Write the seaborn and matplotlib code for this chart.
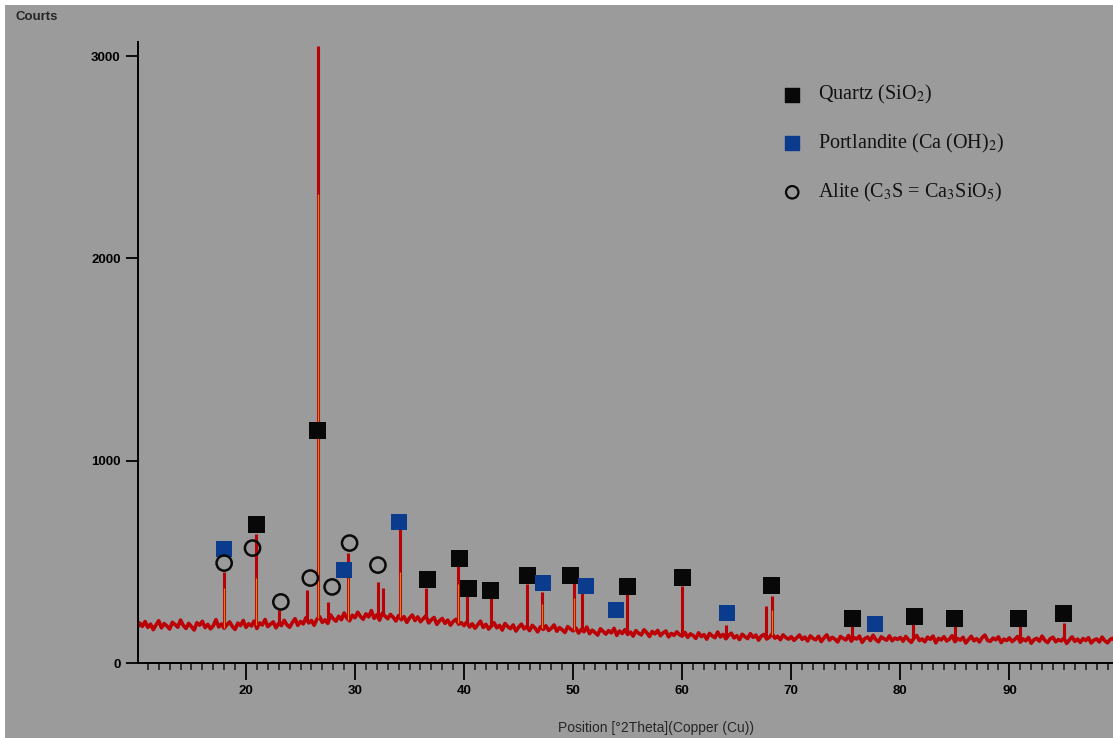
import numpy as np
import pandas as pd
import matplotlib
matplotlib.use("Agg")
import matplotlib.pyplot as plt
from matplotlib.patches import Rectangle
import seaborn as sns

# XRD baseline, every 0.25 deg from 10 to 100
baseline = [
    170, 198, 181, 205, 176, 192, 165, 188, 209, 174, 195, 183, 168, 201, 190, 177, 212, 186, 171, 196,
    180, 163, 199, 187, 206, 175, 191, 169, 184, 214, 178, 193, 172, 189, 203, 181, 166, 197, 185, 210,
    176, 194, 183, 207, 171, 198, 188, 215, 180, 192, 203, 174, 196, 185, 211, 189, 177, 200, 219, 186,
    205, 193, 224, 198, 210, 187, 216, 229, 201, 213, 196, 238, 219, 207, 231, 214, 247, 222, 209, 236,
    224, 251, 230, 216, 243, 228, 259, 221, 238, 212, 246, 232, 219, 240, 226, 208, 235, 214, 229, 201,
    223, 237, 210, 228, 204, 219, 233, 198, 214, 225, 191, 209, 220, 196, 212, 187, 205, 216, 192, 199,
    185, 203, 178, 194, 172, 189, 207, 176, 191, 168, 183, 199, 174, 186, 163, 195, 180, 170, 188, 158,
    177, 192, 169, 181, 160, 186, 173, 154, 179, 166, 184, 161, 172, 188, 157, 175, 164, 151, 180, 168,
    159, 173, 148, 166, 155, 178, 145, 162, 151, 138, 169, 156, 143, 160, 149, 171, 137, 158, 146, 165,
    141, 153, 133, 160, 147, 139, 164, 150, 131, 156, 144, 161, 135, 149, 158, 129, 146, 137, 154, 140,
    133, 151, 127, 144, 136, 122, 149, 131, 140, 118, 146, 134, 125, 153, 129, 141, 120, 137, 147, 124,
    135, 116, 142, 130, 121, 145, 127, 138, 113, 133, 141, 119, 128, 144, 123, 132, 115, 139, 126, 118,
    130, 112, 125, 138, 117, 128, 109, 134, 121, 115, 132, 106, 124, 139, 113, 127, 118, 104, 131, 122,
    114, 136, 108, 125, 119, 133, 102, 121, 128, 111, 137, 116, 105, 129, 120, 113, 134, 110, 123, 117,
    126, 108, 131, 115, 102, 124, 136, 111, 119, 105, 128, 117, 133, 100, 122, 114, 130, 109, 118, 135,
    106, 121, 113, 127, 99, 116, 132, 110, 120, 104, 125, 138, 112, 107, 123, 115, 129, 101, 118, 111,
    124, 106, 117, 131, 103, 119, 110, 126, 98, 115, 122, 108, 133, 112, 101, 120, 127, 105, 116, 109,
    123, 97, 114, 129, 107, 118, 102, 121, 111, 125, 99, 113, 119, 104, 128, 110, 100, 117, 122, 108,
    114,
]
two_theta = 10 + 0.25 * np.arange(len(baseline))

# diffraction peaks (position, max counts)
peak_pos = [18.0, 20.9, 23.0, 25.6, 26.65, 27.5, 29.4, 32.1, 32.6, 34.1, 36.5, 39.45, 40.3, 42.45,
            45.8, 47.1, 50.1, 50.8, 54.9, 60.0, 64.0, 67.7, 68.2, 75.6, 81.2, 85.0, 91.0, 95.0]
peak_int = [450, 640, 260, 360, 3050, 300, 545, 400, 370, 670, 370, 490, 330, 335,
            390, 350, 420, 370, 350, 380, 190, 280, 330, 190, 200, 190, 195, 200]

# reference pattern sticks (orange)
stick_pos = [18.0, 20.9, 26.65, 29.4, 34.1, 39.45, 47.1, 50.1, 68.2]
stick_int = [370, 420, 2320, 420, 450, 390, 290, 320, 260]

# phase markers
quartz_x = [26.6, 21.0, 36.6, 39.6, 40.4, 42.4, 45.8, 49.8, 55.0, 60.0, 68.2, 75.6, 81.3, 85.0, 90.8, 95.0]
quartz_y = [1147, 687, 415, 519, 366, 356, 435, 435, 380, 425, 385, 222, 232, 222, 222, 247]
portl_x = [18.0, 29.0, 34.0, 47.2, 51.2, 53.9, 64.1, 77.7]
portl_y = [563, 460, 697, 395, 380, 262, 247, 193]
alite_x = [18.0, 20.6, 23.2, 25.9, 27.9, 29.5, 32.1]
alite_y = [494, 568, 302, 420, 376, 593, 484]

legend_labels = ["Quartz (SiO$_2$)", "Portlandite (Ca (OH)$_2$)", "Alite (C$_3$S = Ca$_3$SiO$_5$)"]

gray = "#9b9b9b"
red = "#bb0006"
blue = "#0b3b8c"

sns.set_style("ticks", {"axes.facecolor": gray})
plt.rcParams["font.family"] = ["Liberation Sans", "DejaVu Sans"]
plt.rcParams["mathtext.fontset"] = "stix"

fig = plt.figure(figsize=(11.13, 7.38), dpi=100)
fig.patch.set_facecolor("white")
fig.patches.append(Rectangle((5 / 1113, 0), 1, 1 - 5 / 738, transform=fig.transFigure,
                             facecolor=gray, edgecolor="none", zorder=-10))
ax = fig.add_axes([138 / 1113, 1 - 663 / 738, 1 - 138 / 1113, (663 - 42) / 738])
ax.patch.set_facecolor(gray)

df = pd.DataFrame({"two_theta": two_theta, "counts": baseline})
sns.lineplot(data=df, x="two_theta", y="counts", color=red, lw=2.6, ax=ax)

base_at_peak = np.interp(peak_pos, two_theta, baseline)
ax.vlines(peak_pos, base_at_peak, peak_int, color=red, lw=2.2)
base_at_stick = np.interp(stick_pos, two_theta, baseline)
ax.vlines(stick_pos, base_at_stick, stick_int, color="#d9821e", lw=0.9)

sns.scatterplot(x=quartz_x, y=quartz_y, marker="s", s=150, color="#080808", edgecolor="none", ax=ax, zorder=5)
sns.scatterplot(x=portl_x, y=portl_y, marker="s", s=130, color=blue, edgecolor="none", ax=ax, zorder=5)
ax.scatter(alite_x, alite_y, marker="o", s=120, facecolors="none", edgecolors="#0a0a0a", linewidths=1.8, zorder=5)

# manual legend
leg_y = [0.915, 0.837, 0.758]
ax.scatter([0.671], [leg_y[0]], marker="s", s=110, color="#080808", transform=ax.transAxes, clip_on=False)
ax.scatter([0.671], [leg_y[1]], marker="s", s=100, color=blue, transform=ax.transAxes, clip_on=False)
ax.scatter([0.671], [leg_y[2]], marker="o", s=80, facecolors="none", edgecolors="#0a0a0a",
           linewidths=1.6, transform=ax.transAxes, clip_on=False)
for yy, lab in zip(leg_y, legend_labels):
    ax.text(0.697, yy, lab, transform=ax.transAxes, fontsize=14.5, va="center", ha="left",
            family=["Liberation Serif", "DejaVu Serif"], color="#111111")

ax.set_xlim(10.1, 99.5)
ax.set_ylim(0, 3070)
ax.set_xticks(range(20, 100, 10))
ax.set_xticks(range(11, 100), minor=True)
ax.set_yticks([0, 1000, 2000, 3000])
ax.tick_params(axis="both", which="major", labelsize=9.5, colors="black", width=1.3)
ax.tick_params(axis="x", which="major", length=12)
ax.tick_params(axis="x", which="minor", length=5, width=1.3)
ax.tick_params(axis="y", which="major", length=9)
for lab in ax.get_xticklabels() + ax.get_yticklabels():
    lab.set_fontweight("bold")
ax.set_xlabel("")
ax.set_ylabel("")
sns.despine(ax=ax, top=True, right=True)
for sp in ["left", "bottom"]:
    ax.spines[sp].set_linewidth(1.4)
    ax.spines[sp].set_color("black")

fig.text(15 / 1113, 1 - 17 / 738, "Courts", fontsize=9.5, fontweight="bold", va="center", ha="left")
fig.text(656 / 1113, 1 - 728 / 738, "Position [°2Theta](Copper (Cu))", fontsize=10,
         va="center", ha="center")

fig.savefig("out.png", dpi=100, facecolor=fig.get_facecolor())
